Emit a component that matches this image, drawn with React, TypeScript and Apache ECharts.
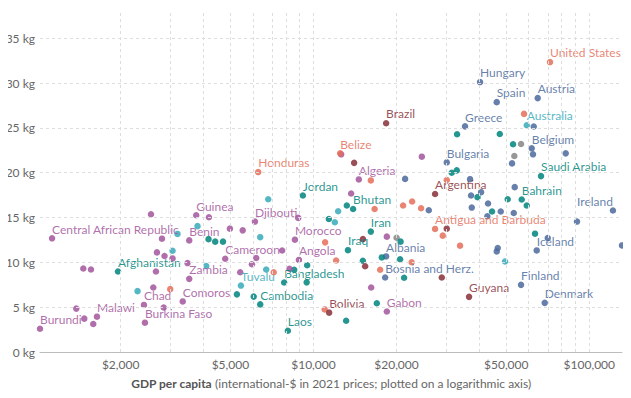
import React, { useEffect, useRef } from "react";
import * as echarts from "echarts";

type Pt = [number, number, string?];

// GDP per capita (int.-$), kg per capita, optional label
const africa: Pt[] = [
  [1020, 2.6, "Burundi"], [1381, 4.84], [1476, 3.72], [1591, 3.12], [1641, 3.94, "Malawi"],
  [1464, 9.32], [1561, 9.2], [1128, 12.68, "Central African Republic"], [2576, 15.36],
  [2823, 12.64], [2707, 11.11], [2884, 10.71], [3084, 10.44], [2685, 8.98], [3495, 9.92],
  [3545, 8.16, "Zambia"], [2626, 7.19], [2429, 5.25, "Chad"], [2865, 4.97],
  [3358, 5.64, "Comoros"], [2449, 3.27, "Burkina Faso"], [3758, 15.25, "Guinea"], [4178, 15.03],
  [3545, 12.45, "Benin"], [4978, 13.76], [5540, 13.57], [4787, 10.4, "Cameroon"], [5425, 8.89],
  [5982, 9.79], [6201, 10.48], [6135, 14.55, "Djibouti"], [8804, 14.96], [8564, 12.53, "Morocco"],
  [7701, 11.32], [8855, 10.27, "Angola"], [8185, 9.28], [14604, 19.25, "Algeria"], [13696, 17.68],
  [24708, 21.79], [12603, 22.05], [18449, 12.87], [16187, 7.19], [18449, 4.52, "Gabon"],
];

const asia: Pt[] = [
  [1956, 8.98, "Afghanistan"], [4165, 12.59], [4404, 12.31], [4699, 12.31], [5278, 6.43],
  [6072, 6.18], [6412, 5.31, "Cambodia"], [7830, 7.75, "Bangladesh"], [9449, 7.77], [9489, 9.68],
  [8514, 9.17], [8076, 2.37, "Laos"], [9154, 17.46, "Jordan"], [11370, 14.83], [13213, 16.34],
  [13924, 15.95, "Bhutan"], [16144, 13.43, "Iran"], [13335, 11.36, "Iraq"], [15101, 10.18],
  [17695, 10.55], [20698, 12.31], [20612, 10.35], [21312, 8.28], [16972, 5.44], [13137, 3.49],
  [31720, 20.0], [33080, 20.26], [33164, 24.29], [47370, 24.32], [52920, 23.17], [39340, 17.27],
  [44410, 15.67], [50610, 17.04], [56890, 17.01, "Bahrain"], [59330, 16.34],
  [66834, 19.62, "Saudi Arabia"], [63573, 13.2],
];

const europe: Pt[] = [
  [21490, 19.31], [30428, 21.15, "Bulgaria"], [35442, 25.17, "Greece"], [40180, 30.11, "Hungary"],
  [46180, 27.87, "Spain"], [65013, 28.32, "Austria"], [62890, 25.15], [61840, 22.72, "Belgium"],
  [62510, 22.05], [82140, 22.16], [52480, 21.04], [36960, 19.28], [37270, 17.46], [40520, 17.83],
  [53660, 18.39], [42950, 16.56], [26190, 15.81], [37490, 16.11], [47750, 15.67], [53230, 15.5],
  [42700, 15.14], [121830, 15.78, "Ireland"], [90250, 14.55], [70690, 12.72],
  [64470, 11.33, "Iceland"], [46570, 11.6], [46180, 11.22], [131400, 11.89],
  [18190, 8.31, "Bosnia and Herz."], [18340, 10.66, "Albania"], [56560, 7.49, "Finland"],
  [68930, 5.48, "Denmark"],
];

const other: Pt[] = [[20014, 12.75], [56560, 23.2], [53490, 21.86]];

const northAmerica: Pt[] = [
  [72050, 32.34, "United States"], [58000, 26.56], [6304, 20.07, "Honduras"],
  [12495, 22.16, "Belize"], [16144, 19.14], [16663, 15.95], [21135, 16.34], [22790, 16.79],
  [24560, 16.04], [27600, 13.73, "Antigua and Barbuda"], [30428, 19.19], [29430, 12.98],
  [34000, 11.86], [22690, 10.01], [17450, 9.17], [12083, 10.21], [11024, 12.23], [7176, 8.89],
  [10980, 4.75], [3025, 7.01],
];

const southAmerica: Pt[] = [
  [18340, 25.52, "Brazil"], [14043, 21.1], [27600, 17.63, "Argentina"], [30428, 13.76],
  [15113, 12.59], [15394, 9.56], [11400, 4.39, "Bolivia"], [29190, 8.31], [36650, 6.15, "Guyana"],
];

const oceania: Pt[] = [
  [59330, 25.3, "Australia"], [2303, 6.79], [3215, 13.17], [3084, 11.3], [3799, 14.04],
  [4085, 9.59], [5458, 7.41, "Tuvalu"], [6740, 9.2], [6855, 17.04], [6412, 12.81],
  [12288, 15.7], [11953, 14.47], [49490, 10.1],
];

const xTickValues = [2000, 5000, 10000, 20000, 50000, 100000];
const xGridValues = [
  2000, 3000, 4000, 5000, 6000, 7000, 8000, 9000, 10000, 20000, 30000, 40000, 50000, 60000,
  70000, 80000, 90000, 100000,
];
const yTickValues = [0, 5, 10, 15, 20, 25, 30, 35];
const yMaxValue = 38.15;

const FONT = "Lato, 'Noto Sans', sans-serif";

const groups: { data: Pt[]; color: string }[] = [
  { data: other, color: "#858585" },
  { data: europe, color: "#4C6A9C" },
  { data: asia, color: "#00847E" },
  { data: africa, color: "#A2559C" },
  { data: oceania, color: "#38AABA" },
  { data: northAmerica, color: "#E56E5A" },
  { data: southAmerica, color: "#883039" },
];

export default function App() {
  const ref = useRef<HTMLDivElement>(null);
  useEffect(() => {
    if (!ref.current) return;
    const chart = echarts.init(ref.current, undefined, { renderer: "svg" });
    const all = groups.flatMap((g) => g.data);
    const xMin = Math.min(...all.map((p) => Math.log10(p[0])));
    const xMax = Math.max(...all.map((p) => Math.log10(p[0])));

    const gridLine = { type: [3, 3] as any, color: "#dddddd", width: 1 };

    const series: any[] = [
      {
        type: "scatter",
        data: [],
        z: 0,
        silent: true,
        markLine: {
          silent: true,
          symbol: "none",
          label: { show: false },
          lineStyle: gridLine,
          emphasis: { disabled: true },
          data: [
            ...xGridValues.map((v) => ({ xAxis: Math.log10(v) })),
            ...yTickValues.filter((v) => v > 0).map((v) => ({ yAxis: v })),
          ],
        },
      },
    ];

    groups.forEach((g) => {
      series.push({
        type: "scatter",
        z: 2,
        symbolSize: 6.5,
        itemStyle: { color: g.color, opacity: 0.85 },
        emphasis: { disabled: true },
        label: {
          show: false,
          position: "top",
          distance: 0,
          align: "left",
          formatter: "{b}",
          color: g.color,
          fontFamily: FONT,
          fontSize: 12,
        },
        data: g.data.map(([gdp, kg, name]) => ({
          value: [Math.log10(gdp), kg],
          name: name ?? "",
          label: name
            ? { show: true, align: name === "Ireland" ? "right" : "left" }
            : { show: false },
        })),
      });
    });

    chart.setOption({
      animation: false,
      grid: { left: 40, right: 9, top: 10, bottom: 46, containLabel: false },
      xAxis: {
        type: "value",
        min: xMin,
        max: xMax,
        axisLine: { show: true, lineStyle: { color: "#bdbdbd", width: 1 } },
        axisTick: { show: false },
        splitLine: { show: false },
        axisLabel: {
          customValues: xTickValues.map((v) => Math.log10(v)),
          formatter: (v: number) => "$" + Math.round(Math.pow(10, v)).toLocaleString("en-US"),
          color: "#666",
          fontFamily: FONT,
          fontSize: 12,
          margin: 6,
        },
        name: "{b|GDP per capita} (international-$ in 2021 prices; plotted on a logarithmic axis)",
        nameLocation: "middle",
        nameGap: 25,
        nameTextStyle: {
          color: "#666",
          fontFamily: FONT,
          fontSize: 12,
          rich: {
            b: { fontWeight: "bold", color: "#555", fontFamily: FONT, fontSize: 12 },
          },
        },
      },
      yAxis: {
        type: "value",
        min: 0,
        max: yMaxValue,
        axisLine: { show: false },
        axisTick: { show: false },
        splitLine: { show: false },
        axisLabel: {
          customValues: yTickValues,
          formatter: (v: number) => `${v} kg`,
          color: "#666",
          fontFamily: FONT,
          fontSize: 12,
          margin: 5,
        },
      },
      series,
    });
    return () => chart.dispose();
  }, []);

  return <div ref={ref} style={{ width: 631, height: 398, margin: -8 }} />;
}
